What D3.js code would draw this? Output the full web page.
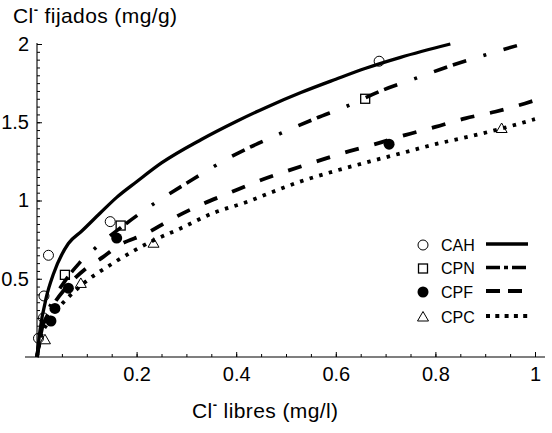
<!DOCTYPE html>
<html><head><meta charset="utf-8">
<script src="https://cdn.jsdelivr.net/npm/d3@7"></script>
<style>
body{margin:0;background:#fff}
text{font-family:"Liberation Sans",Arial,Helvetica,sans-serif;fill:#000}
</style>
</head><body>
<svg id="chart" width="552" height="433"></svg>
<script>
// ---- data ----
const seriesNames = ["CAH", "CPN", "CPF", "CPC"];

// fitted curves
const cahCurveX = [0, 0.006, 0.019, 0.033, 0.063, 0.09, 0.127, 0.16, 0.2, 0.25, 0.33, 0.4, 0.46, 0.53, 0.6, 0.66, 0.73, 0.83];
const cahCurveY = [0, 0.17, 0.385, 0.53, 0.725, 0.805, 0.92, 1.02, 1.12, 1.24, 1.39, 1.505, 1.595, 1.69, 1.775, 1.845, 1.915, 2.0];

const cpnCurveX = [0, 0.01, 0.03, 0.055, 0.085, 0.115, 0.18, 0.235, 0.3, 0.39, 0.49, 0.56, 0.62, 0.69, 0.76, 0.83, 0.9, 0.975];
const cpnCurveY = [0, 0.18, 0.35, 0.48, 0.6, 0.69, 0.855, 0.98, 1.11, 1.28, 1.43, 1.525, 1.6, 1.70, 1.78, 1.86, 1.93, 2.0];

const cpfCurveX = [0, 0.008, 0.02, 0.036, 0.063, 0.1, 0.133, 0.16, 0.22, 0.267, 0.327, 0.384, 0.441, 0.498, 0.56, 0.618, 0.679, 0.739, 0.8, 0.86, 0.92, 0.98, 1.0];
const cpfCurveY = [0, 0.16, 0.26, 0.35, 0.46, 0.57, 0.64, 0.705, 0.79, 0.875, 0.97, 1.045, 1.12, 1.184, 1.248, 1.307, 1.36, 1.418, 1.47, 1.525, 1.567, 1.62, 1.64];

const cpcCurveX = [0, 0.008, 0.02, 0.04, 0.086, 0.153, 0.234, 0.287, 0.354, 0.421, 0.474, 0.528, 0.6, 0.669, 0.729, 0.8, 0.87, 0.933, 1.0];
const cpcCurveY = [0, 0.13, 0.21, 0.3, 0.45, 0.6, 0.745, 0.82, 0.92, 0.99, 1.056, 1.12, 1.19, 1.25, 1.30, 1.36, 1.41, 1.46, 1.52];

// measured points
const cahPtsX = [0.003, 0.013, 0.014, 0.023, 0.147, 0.687];
const cahPtsY = [0.12, 0.25, 0.39, 0.65, 0.865, 1.89];
const cpnPtsX = [0.056, 0.168, 0.659];
const cpnPtsY = [0.525, 0.84, 1.65];
const cpfPtsX = [0.028, 0.036, 0.063, 0.16, 0.707];
const cpfPtsY = [0.23, 0.31, 0.44, 0.76, 1.36];
const cpcPtsX = [0.016, 0.088, 0.234, 0.933];
const cpcPtsY = [0.11, 0.47, 0.727, 1.46];

const xTickLabels = [0.2, 0.4, 0.6, 0.8, 1];
const yTickLabels = [0.5, 1, 1.5, 2];

// ---- drawing ----
const FONT = '"Liberation Sans",Arial,Helvetica,sans-serif';
const svg = d3.select("#chart");
const x = d3.scaleLinear().domain([0, 1]).range([37, 535]);
const y = d3.scaleLinear().domain([0, 2]).range([357, 44]);

const zip = (a, b) => a.map((v, i) => [v, b[i]]);
const curves = [
  {name: "CAH", pts: zip(cahCurveX, cahCurveY), sw: 3.3, dash: null, legDash: null},
  {name: "CPN", pts: zip(cpnCurveX, cpnCurveY), sw: 3.6, dash: "14,6,14,18,3,18", legDash: "14,4,4,4"},
  {name: "CPF", pts: zip(cpfCurveX, cpfCurveY), sw: 3.8, dash: "14,16", legDash: "14,8"},
  {name: "CPC", pts: zip(cpcCurveX, cpcCurveY), sw: 3.8, dash: "3.5,6.5", legDash: "4,5.3"}
];
const points = [
  {name: "CAH", pts: zip(cahPtsX, cahPtsY), shape: "circle"},
  {name: "CPN", pts: zip(cpnPtsX, cpnPtsY), shape: "square"},
  {name: "CPF", pts: zip(cpfPtsX, cpfPtsY), shape: "disc"},
  {name: "CPC", pts: zip(cpcPtsX, cpcPtsY), shape: "triangle"}
];

// axes
const minorX = d3.range(1, 21).map(i => i * 0.05);
const minorY = d3.range(1, 41).map(i => i * 0.05);

svg.append("line").attr("x1", 25).attr("x2", 545).attr("y1", y(0)).attr("y2", y(0))
  .attr("stroke", "#000").attr("stroke-width", 1.1);
svg.append("line").attr("x1", x(0)).attr("x2", x(0)).attr("y1", y(0)).attr("y2", y(2) - 1)
  .attr("stroke", "#000").attr("stroke-width", 1.1);

const gx = svg.append("g").attr("transform", `translate(0,${y(0)})`);
gx.call(d3.axisBottom(x).tickValues(minorX).tickSize(-3).tickFormat(""));
gx.append("g").call(d3.axisBottom(x).tickValues(xTickLabels).tickSize(-5).tickPadding(10)
  .tickFormat(d => d === 1 ? "1" : d3.format(".1f")(d)));
gx.selectAll(".domain").remove();
gx.selectAll("line").attr("stroke", "#000").attr("stroke-width", 1);
gx.selectAll("text").attr("font-size", 20).attr("font-family", FONT).attr("fill", "#000");

const gy = svg.append("g").attr("transform", `translate(${x(0)},0)`);
gy.call(d3.axisLeft(y).tickValues(minorY).tickSize(-3).tickFormat(""));
gy.append("g").call(d3.axisLeft(y).tickValues(yTickLabels).tickSize(-5).tickPadding(8)
  .tickFormat(d => d3.format("")(d)));
gy.selectAll(".domain").remove();
gy.selectAll("line").attr("stroke", "#000").attr("stroke-width", 1);
gy.selectAll("text").attr("font-size", 20).attr("font-family", FONT).attr("fill", "#000");

// curves
const line = d3.line().x(d => x(d[0])).y(d => y(d[1])).curve(d3.curveMonotoneX);
curves.forEach(c => {
  svg.append("path").attr("d", line(c.pts)).attr("fill", "none")
    .attr("stroke", "#000").attr("stroke-width", c.sw)
    .attr("stroke-dasharray", c.dash);
});

// markers
function marker(g, shape, cx, cy) {
  if (shape === "circle") {
    g.append("circle").attr("cx", cx).attr("cy", cy).attr("r", 5)
      .attr("fill", "none").attr("stroke", "#000").attr("stroke-width", 1);
  } else if (shape === "disc") {
    g.append("circle").attr("cx", cx).attr("cy", cy).attr("r", 5.5).attr("fill", "#000");
  } else if (shape === "square") {
    g.append("rect").attr("x", cx - 4.5).attr("y", cy - 4.5).attr("width", 9).attr("height", 9)
      .attr("fill", "none").attr("stroke", "#000").attr("stroke-width", 1.3);
  } else {
    g.append("path").attr("d", `M${cx - 5.5},${cy + 4}L${cx + 5.5},${cy + 4}L${cx},${cy - 5.5}Z`)
      .attr("fill", "none").attr("stroke", "#000").attr("stroke-width", 1);
  }
}
const gm = svg.append("g");
points.forEach(p => p.pts.forEach(d => marker(gm, p.shape, x(d[0]), y(d[1]))));

// legend
const legY = [244, 267.5, 291, 316];
const gl = svg.append("g");
seriesNames.forEach((n, i) => {
  marker(gl, points[i].shape, 423, legY[i] + 1);
  gl.append("text").attr("x", 441).attr("y", legY[i] + 6.5).attr("font-size", 16).text(n);
  gl.append("line").attr("x1", 486).attr("x2", 528).attr("y1", legY[i]).attr("y2", legY[i])
    .attr("stroke", "#000").attr("stroke-width", curves[i].sw)
    .attr("stroke-dasharray", curves[i].legDash);
});

// axis titles
function clTitle(xp, yp, rest) {
  const t = svg.append("text").attr("x", xp).attr("y", yp).attr("font-size", 21)
    .attr("letter-spacing", 0.4);
  t.append("tspan").text("Cl");
  t.append("tspan").attr("dy", -9).attr("font-size", 13).attr("font-weight", "bold").text("-");
  t.append("tspan").attr("dy", 9).text(" " + rest);
  return t;
}
clTitle(13, 23, "fijados (mg/g)");
clTitle(192, 418, "libres (mg/l)");
</script>
</body></html>
